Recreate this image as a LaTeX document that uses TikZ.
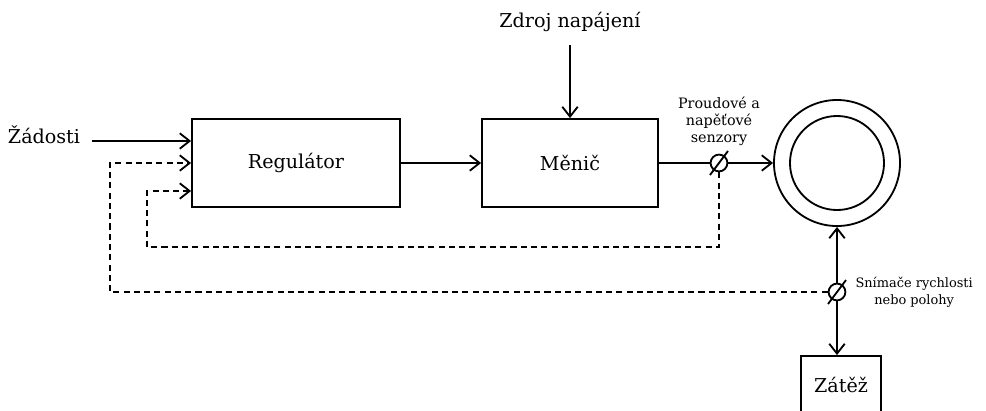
\documentclass[tikz,border=0pt]{standalone}
\usepackage{fontspec}
\setmainfont{DejaVu Serif}
\usetikzlibrary{arrows.meta,calc}

\begin{document}
\begin{tikzpicture}[
  x=0.025cm, y=-0.025cm,
  font=\fontsize{13.6}{16}\selectfont,
  blk/.style={draw, line width=1.3pt, minimum width=#1*0.025cm,
              minimum height=2.2cm, inner sep=0pt},
  sens/.style={circle, draw, line width=1.3pt, minimum size=0.42cm, inner sep=0pt},
  ring/.style={circle, draw, line width=1.3pt, inner sep=0pt},
  sig/.style={line width=1.3pt},
  fb/.style={line width=1.3pt, dash pattern=on 4.3pt off 3pt},
  tip/.style={-{Straight Barb[length=7pt,width=11pt]}},
  lbl/.style={font=\fontsize{10.2}{12.2}\selectfont, align=center},
]
\useasboundingbox (0,0) rectangle (986,410);

% ============ blocks ============
\node[blk=208] (reg) at (296,163) {Regulátor};
\node[blk=176] (men) at (570,163) {Měnič};
\node[ring, minimum size=3.15cm] (mot) at (837,163) {};
\node[ring, minimum size=2.35cm] (rot) at (mot.center) {};
\node[blk=80] (load) at (841,400) {};
\node at (841,385) {Zátěž};

% sensors
\node[sens] (s1) at (719,163) {};
\node[sens] (s2) at (837,292) {};
\draw[sig] ([shift={(-9,12)}]s1.center) -- ([shift={(9,-12)}]s1.center);
\draw[sig] ([shift={(-9,12)}]s2.center) -- ([shift={(9,-12)}]s2.center);

% texts
\node (req) at (44,135) {Žádosti};
\node (src) at (570,22) {Zdroj napájení};
\node[lbl, anchor=south] (l1) at ([yshift=2pt]s1.north) {Proudové a\\napěťové\\senzory};
\node[lbl, anchor=west, font=\fontsize{9.2}{12.2}\selectfont] (l2)
  at ([xshift=3pt]s2.east) {Snímače rychlosti\\nebo polohy};

% ============ power path ============
\coordinate (reqend) at (92,141);
\draw[sig,tip] (reqend) -- (reqend -| reg.west);
\draw[sig,tip] (570,45) -- (men.north);
\draw[sig,tip] (reg.east) -- (men.west);
\draw[sig] (men.east) -- (s1.west);
\draw[sig,tip] (s1.east) -- (mot.west);
\draw[sig,tip] (s2.north) -- (mot.south);
\draw[sig,tip] (s2.south) -- (s2.south |- load.north);

% ============ feedback ============
\coordinate (fbA) at (147,247);
\coordinate (fbB) at (110,292);
\draw[fb,tip] (s1.south) |- (fbA) |- ($(reg.west)+(0,28)$);
\draw[fb,tip] (s2.west) -- (fbB) |- (reg.west);

\end{tikzpicture}
\end{document}
